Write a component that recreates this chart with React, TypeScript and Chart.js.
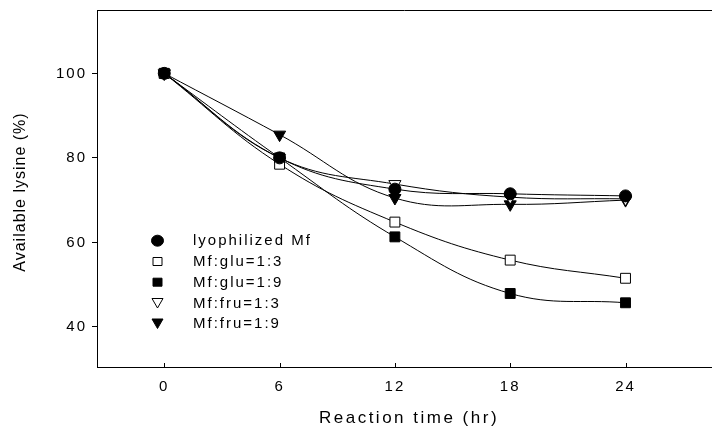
import React, { useEffect, useRef } from "react";
import { Chart, registerables } from "chart.js";

Chart.register(...registerables);

const hours = [0, 6, 12, 18, 24];
const xTicks = [0, 6, 12, 18, 24];
const yTicks = [40, 60, 80, 100];
const lyophilized = [100, 80, 72.6, 71.5, 71.0];
const glu13 = [100, 78.5, 64.8, 55.8, 51.5];
const glu19 = [100, 80, 61.3, 47.9, 45.7];
const fru13 = [100, 80, 73.8, 70.7, 70.3];
const fru19 = [100, 85.5, 70.5, 69.0, 70.0];
const seriesNames = ["lyophilized Mf", "Mf:glu=1:3", "Mf:glu=1:9", "Mf:fru=1:3", "Mf:fru=1:9"];

const FONT = "'Liberation Sans', Arial, sans-serif";

type Glyph = { shape: string; filled: boolean };
const glyphs: Glyph[] = [
  { shape: "circle", filled: true },
  { shape: "rect", filled: false },
  { shape: "rect", filled: true },
  { shape: "tri", filled: false },
  { shape: "tri", filled: true },
];

function drawGlyph(ctx: CanvasRenderingContext2D, g: Glyph, x: number, y: number) {
  ctx.save();
  ctx.beginPath();
  if (g.shape === "circle") {
    ctx.ellipse(x, y, 6, 5.5, 0, 0, Math.PI * 2);
  } else if (g.shape === "rect") {
    ctx.rect(x - 4.5, y - 4, 9, 8);
  } else {
    ctx.moveTo(x - 5.5, y - 4.5);
    ctx.lineTo(x + 5.5, y - 4.5);
    ctx.lineTo(x, y + 5);
    ctx.closePath();
  }
  ctx.fillStyle = g.filled ? "#000" : "#fff";
  ctx.fill();
  ctx.lineWidth = 1;
  ctx.strokeStyle = "#000";
  ctx.stroke();
  ctx.restore();
}

const spacingPlugin = {
  id: "spacing",
  beforeDraw(chart: any) {
    (chart.ctx as any).letterSpacing = "2px";
  },
};

const framePlugin = {
  id: "frame",
  afterDraw(chart: any) {
    const ctx: CanvasRenderingContext2D = chart.ctx;
    const area = chart.chartArea;
    const xs = chart.scales.x;
    ctx.save();
    ctx.strokeStyle = "#000";
    ctx.lineWidth = 1;
    // top border
    ctx.beginPath();
    ctx.moveTo(area.left, Math.round(area.top) + 0.5);
    ctx.lineTo(chart.width, Math.round(area.top) + 0.5);
    ctx.stroke();
    // inside x ticks
    xTicks.forEach((v) => {
      const px = Math.round(xs.getPixelForValue(v)) + 0.5;
      ctx.beginPath();
      ctx.moveTo(px, area.bottom);
      ctx.lineTo(px, area.bottom - 4);
      ctx.stroke();
    });
    // titles
    ctx.fillStyle = "#000";
    (ctx as any).letterSpacing = "2.5px";
    ctx.font = `17px ${FONT}`;
    ctx.textAlign = "center";
    ctx.textBaseline = "middle";
    ctx.fillText("Reaction time (hr)", 409, 418);
    (ctx as any).letterSpacing = "1px";
    ctx.font = `16px ${FONT}`;
    ctx.save();
    ctx.translate(21, 192);
    ctx.rotate(-Math.PI / 2);
    ctx.fillText("Available lysine (%)", 0, 0);
    ctx.restore();
    // legend
    (ctx as any).letterSpacing = "2px";
    ctx.font = `15px ${FONT}`;
    ctx.textAlign = "left";
    const rowY = [240.7, 261.5, 282.2, 303, 323.5];
    seriesNames.forEach((name, i) => {
      drawGlyph(ctx, glyphs[i], 157.5, rowY[i]);
      ctx.fillStyle = "#000";
      ctx.fillText(name, 193, rowY[i] + 0.5);
    });
    ctx.restore();
  },
};

export default function App() {
  const ref = useRef<HTMLCanvasElement | null>(null);
  useEffect(() => {
    document.body.style.margin = "0";
    if (!ref.current) return;
    const mk = (
      label: string,
      data: number[],
      style: string,
      filled: boolean,
      radius: number,
      rotation = 0
    ) => ({
      label,
      data: hours.map((h, i) => ({ x: h, y: data[i] })),
      borderColor: "#000",
      borderWidth: 1,
      tension: 0.4,
      fill: false,
      pointStyle: style,
      pointRadius: radius,
      pointRotation: rotation,
      pointBackgroundColor: filled ? "#000" : "#fff",
      pointBorderColor: "#000",
      pointBorderWidth: 1,
    });
    const chart = new Chart(ref.current, {
      type: "line",
      data: {
        datasets: [
          mk(seriesNames[0], lyophilized, "circle", true, 6),
          mk(seriesNames[1], glu13, "rect", false, 7),
          mk(seriesNames[2], glu19, "rect", true, 7),
          mk(seriesNames[3], fru13, "triangle", false, 7, 180),
          mk(seriesNames[4], fru19, "triangle", true, 7, 180),
        ] as any,
      },
      options: {
        animation: false,
        responsive: false,
        devicePixelRatio: 1,
        layout: { autoPadding: false, padding: { top: 10, left: 0, right: 0, bottom: 0 } },
        plugins: { legend: { display: false }, tooltip: { enabled: false } },
        scales: {
          x: {
            type: "linear",
            min: -3.5,
            max: 28.5,
            afterBuildTicks: (s: any) => {
              s.ticks = xTicks.map((v) => ({ value: v }));
            },
            afterFit: (s: any) => {
              s.height = 66;
              s.paddingLeft = 0;
              s.paddingRight = 0;
              s.paddingTop = 0;
              s.paddingBottom = 0;
            },
            grid: { display: true, drawOnChartArea: false, drawTicks: false, color: "#000" },
            border: { display: true, color: "#000", width: 1 },
            ticks: {
              color: "#000",
              font: { family: FONT, size: 15 },
              padding: 11,
              maxRotation: 0,
            },
          },
          y: {
            type: "linear",
            min: 30.5,
            max: 115,
            afterBuildTicks: (s: any) => {
              s.ticks = yTicks.map((v) => ({ value: v }));
            },
            afterFit: (s: any) => {
              s.width = 97;
              s.paddingLeft = 0;
              s.paddingRight = 0;
              s.paddingTop = 0;
              s.paddingBottom = 0;
            },
            grid: { display: true, drawOnChartArea: false, drawTicks: true, tickLength: 5, color: "#000" },
            border: { display: true, color: "#000", width: 1 },
            ticks: {
              color: "#000",
              font: { family: FONT, size: 15 },
              padding: 5,
            },
          },
        },
      },
      plugins: [spacingPlugin, framePlugin],
    } as any);
    return () => chart.destroy();
  }, []);
  return (
    <div style={{ width: 712, height: 433, position: "relative" }}>
      <canvas ref={ref} width={712} height={433} style={{ display: "block" }} />
    </div>
  );
}
